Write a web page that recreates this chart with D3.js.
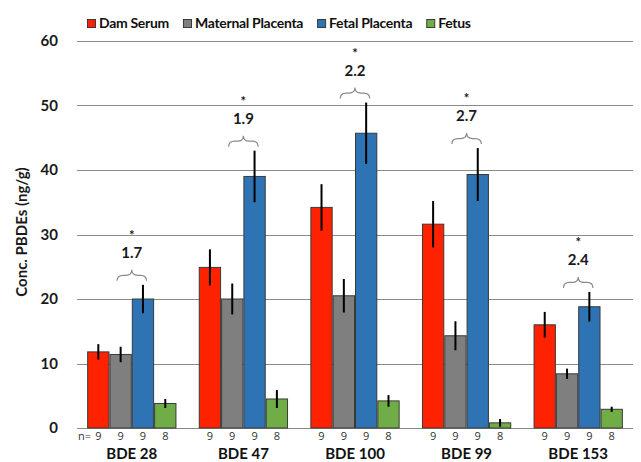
<!DOCTYPE html>
<html>
<head>
<meta charset="utf-8">
<script src="https://cdn.jsdelivr.net/npm/d3@7"></script>
<style>
  html, body { margin: 0; padding: 0; background: #fff; }
  svg { display: block; font-family: Lato, "Open Sans", sans-serif; }
</style>
</head>
<body>
<svg id="chart" width="641" height="462"></svg>
<script>
// PBDE congeners and sample compartments
const congeners = ["BDE 28", "BDE 47", "BDE 100", "BDE 99", "BDE 153"];
const compartments = ["Dam Serum", "Maternal Placenta", "Fetal Placenta", "Fetus"];
const colors = ["#ff2200", "#7f7f7f", "#2e74b5", "#70ad47"];

// mean concentrations (ng/g), one array per compartment, in congener order
const damSerum          = [11.8, 24.9, 34.2, 31.6, 16.0];
const maternalPlacenta  = [11.4, 20.0, 20.5, 14.3, 8.4];
const fetalPlacenta     = [20.0, 39.0, 45.7, 39.3, 18.8];
const fetus             = [3.8, 4.5, 4.2, 0.8, 2.9];

// error bar half-lengths (ng/g)
const damSerumErr         = [1.2, 2.8, 3.6, 3.6, 2.0];
const maternalPlacentaErr = [1.2, 2.4, 2.6, 2.25, 0.8];
const fetalPlacentaErr    = [2.2, 4.0, 4.75, 4.1, 2.3];
const fetusErr            = [0.7, 1.4, 0.9, 0.6, 0.4];

// sample sizes per compartment
const sampleSizes = [9, 9, 9, 8];

// fetal / maternal placenta ratios with significance marks
const ratioLabels = ["1.7", "1.9", "2.2", "2.7", "2.4"];

const yTicks = [0, 10, 20, 30, 40, 50, 60];

const values = [damSerum, maternalPlacenta, fetalPlacenta, fetus];
const errors = [damSerumErr, maternalPlacentaErr, fetalPlacentaErr, fetusErr];

const rows = congeners.map((c, i) => ({
  congener: c,
  bars: compartments.map((k, j) => ({ key: k, j, value: values[j][i], err: errors[j][i] }))
}));

const svg = d3.select("#chart");
const plot = { left: 76, right: 634, top: 41, bottom: 428 };

const x0 = d3.scaleBand().domain(congeners).range([plot.left, plot.right])
  .paddingInner(0.2).paddingOuter(0.1);
const x1 = d3.scaleBand().domain(compartments).range([0, x0.bandwidth()]);
const y = d3.scaleLinear().domain([0, 60]).range([plot.bottom, plot.top]);

// horizontal gridlines
svg.append("g").selectAll("line").data(yTicks).join("line")
  .attr("x1", plot.left + 1).attr("x2", plot.right - 1)
  .attr("y1", d => Math.round(y(d)) + 0.5).attr("y2", d => Math.round(y(d)) + 0.5)
  .attr("stroke", "#8a8a8a").attr("stroke-width", 1);

// y axis labels
const yAxis = d3.axisLeft(y).tickValues(yTicks).tickSize(0).tickPadding(0);
const gy = svg.append("g").attr("transform", "translate(58,0)").call(yAxis);
gy.select(".domain").remove();
gy.selectAll("text")
  .attr("font-family", "Lato, sans-serif")
  .attr("font-size", 15).attr("font-weight", 700).attr("fill", "#1a1a1a");

// y axis title
svg.append("text")
  .attr("transform", "translate(27,232) rotate(-90)")
  .attr("text-anchor", "middle")
  .attr("font-size", 15).attr("font-weight", 700).attr("fill", "#1a1a1a")
  .text("Conc. PBDEs (ng/g)");

// bars
const groups = svg.append("g").selectAll("g").data(rows).join("g")
  .attr("transform", d => `translate(${x0(d.congener)},0)`);

groups.selectAll("rect").data(d => d.bars).join("rect")
  .attr("x", d => x1(d.key) + 0.5)
  .attr("width", x1.bandwidth() - 1)
  .attr("y", d => y(d.value))
  .attr("height", d => y(0) - y(d.value))
  .attr("fill", d => colors[d.j])
  .attr("stroke", "#3a3a3a").attr("stroke-width", 1);

// error bars
groups.selectAll("line.err").data(d => d.bars).join("line")
  .attr("class", "err")
  .attr("x1", d => x1(d.key) + x1.bandwidth() / 2)
  .attr("x2", d => x1(d.key) + x1.bandwidth() / 2)
  .attr("y1", d => y(d.value + d.err))
  .attr("y2", d => y(Math.max(0, d.value - d.err)))
  .attr("stroke", "#000").attr("stroke-width", 2);

// sample size labels
groups.selectAll("text.n").data(d => d.bars).join("text")
  .attr("class", "n")
  .attr("x", d => x1(d.key) + x1.bandwidth() / 2)
  .attr("y", 440)
  .attr("text-anchor", "middle")
  .attr("font-family", "'Open Sans', sans-serif")
  .attr("font-size", 11).attr("fill", "#333")
  .text(d => sampleSizes[d.j]);

svg.append("text")
  .attr("x", 78).attr("y", 440)
  .attr("font-family", "'Open Sans', sans-serif")
  .attr("font-size", 11).attr("fill", "#333")
  .text("n=");

// congener labels
svg.append("g").selectAll("text").data(congeners).join("text")
  .attr("x", d => x0(d) + x0.bandwidth() / 2)
  .attr("y", 459)
  .attr("text-anchor", "middle")
  .attr("font-size", 15).attr("font-weight", 700).attr("fill", "#111")
  .text(d => d);

// ratio braces between maternal and fetal placenta
function bracePath(xl, xr, yb, h) {
  const xm = (xl + xr) / 2;
  const r = Math.min(6, (xr - xl) / 4);
  const ymid = yb - h / 2;
  return `M${xl},${yb}` +
    `Q${xl},${ymid} ${xl + r},${ymid}` +
    `L${xm - r},${ymid}` +
    `Q${xm},${ymid} ${xm},${yb - h}` +
    `Q${xm},${ymid} ${xm + r},${ymid}` +
    `L${xr - r},${ymid}` +
    `Q${xr},${ymid} ${xr},${yb}`;
}

const ann = svg.append("g").selectAll("g").data(rows).join("g")
  .attr("transform", d => `translate(${x0(d.congener)},0)`);

ann.each(function(d, i) {
  const g = d3.select(this);
  const fp = d.bars[2];
  const top = y(fp.value + fp.err);
  const mid = x1("Fetal Placenta");
  const half = x1.bandwidth() * 0.66;
  const yb = top - 4;
  g.append("path")
    .attr("d", bracePath(mid - half, mid + half, yb, 11))
    .attr("fill", "none").attr("stroke", "#8a8a8a").attr("stroke-width", 1.2);
  g.append("text")
    .attr("x", mid).attr("y", top - 27)
    .attr("text-anchor", "middle")
    .attr("font-size", 15).attr("font-weight", 700).attr("fill", "#1a1a1a")
    .text(ratioLabels[i]);
  g.append("text")
    .attr("x", mid).attr("y", top - 45)
    .attr("text-anchor", "middle")
    .attr("font-size", 13).attr("font-weight", 700).attr("fill", "#1a1a1a")
    .text("*");
});

// legend
const legend = svg.append("g").attr("transform", "translate(87,0)");
let lx = 0;
compartments.forEach((k, j) => {
  const item = legend.append("g").attr("transform", `translate(${lx},0)`);
  item.append("rect")
    .attr("x", 0.5).attr("y", 19.5).attr("width", 8).attr("height", 8)
    .attr("fill", colors[j]).attr("stroke", "#3a3a3a").attr("stroke-width", 1);
  const t = item.append("text")
    .attr("x", 12).attr("y", 28)
    .attr("font-size", 14).attr("font-weight", 700).attr("fill", "#111")
    .attr("letter-spacing", -0.3)
    .text(k);
  lx += 12 + t.node().getComputedTextLength() + 14;
});
</script>
</body>
</html>
